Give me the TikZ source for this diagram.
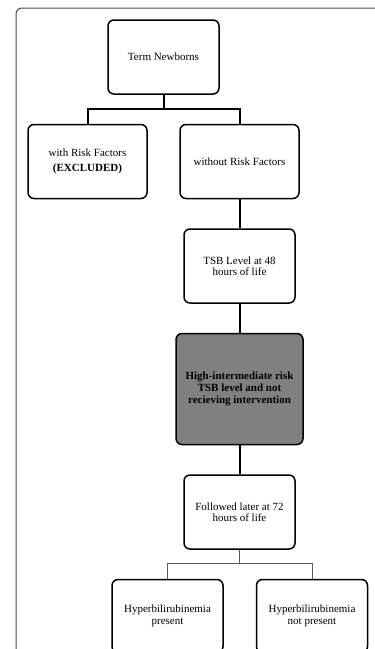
\documentclass[tikz,border=0pt]{standalone}
\usepackage{fontspec}
\setmainfont{Liberation Serif}
\usetikzlibrary{positioning}

\begin{document}
\begin{tikzpicture}[
    node distance=29pt and 33pt,
    box/.style={draw, line width=1.5pt, rounded corners=6pt, fill=white, align=center,
        minimum width=111pt, minimum height=74pt, inner sep=2pt,
        font=\fontsize{11}{11.5}\selectfont},
    link/.style={line width=2pt},
    thinlink/.style={gray!70!black, line width=0.8pt}
]

    % Rahmen
    \useasboundingbox (0,0) rectangle (375pt,-649pt);
    \draw[gray!60!black, line width=1pt, rounded corners=6pt] (16pt,-649pt) |- (375pt,-8pt);

    % Kaesten
    \node[box] (term) at (163.5pt,-57pt) {Term Newborns};
    \node[box, minimum width=119pt] (withrf) [below=of term, xshift=-76pt] {with Risk Factors\\[4pt]\textbf{(EXCLUDED)}};
    \node[box, minimum width=119pt] (withoutrf) [below=of term, xshift=76pt] {without Risk Factors};
    \node[box] (tsb) [below=of withoutrf] {TSB Level at 48\\hours of life};
    \node[box, fill=gray, minimum width=127pt, minimum height=111pt,
        font=\bfseries\fontsize{11}{11.7}\selectfont] (highrisk) [below=of tsb]
        {High-intermediate risk\\TSB level and not\\recieving intervention};
    \node[box] (followed) [below=of highrisk] {Followed later at 72\\hours of life};
    \node[box, minimum height=73pt] (present) [below=of followed, xshift=-72pt] {Hyperbilirubinemia\\present};
    \node[box, minimum height=73pt] (absent) [below=of followed, xshift=72.5pt] {Hyperbilirubinemia\\not present};

    % Verbindungen
    \draw[link] (term.south) -- ++(0,-14pt) -| (withrf.north);
    \draw[link] (term.south) -- ++(0,-14pt) -| (withoutrf.north);
    \draw[link] (withoutrf) -- (tsb);
    \draw[link] (tsb) -- (highrisk);
    \draw[link] (highrisk) -- (followed);
    \draw[thinlink] (followed.south) -- ++(0,-14pt) -| (present.north);
    \draw[thinlink] (followed.south) -- ++(0,-14pt) -| (absent.north);

\end{tikzpicture}
\end{document}
